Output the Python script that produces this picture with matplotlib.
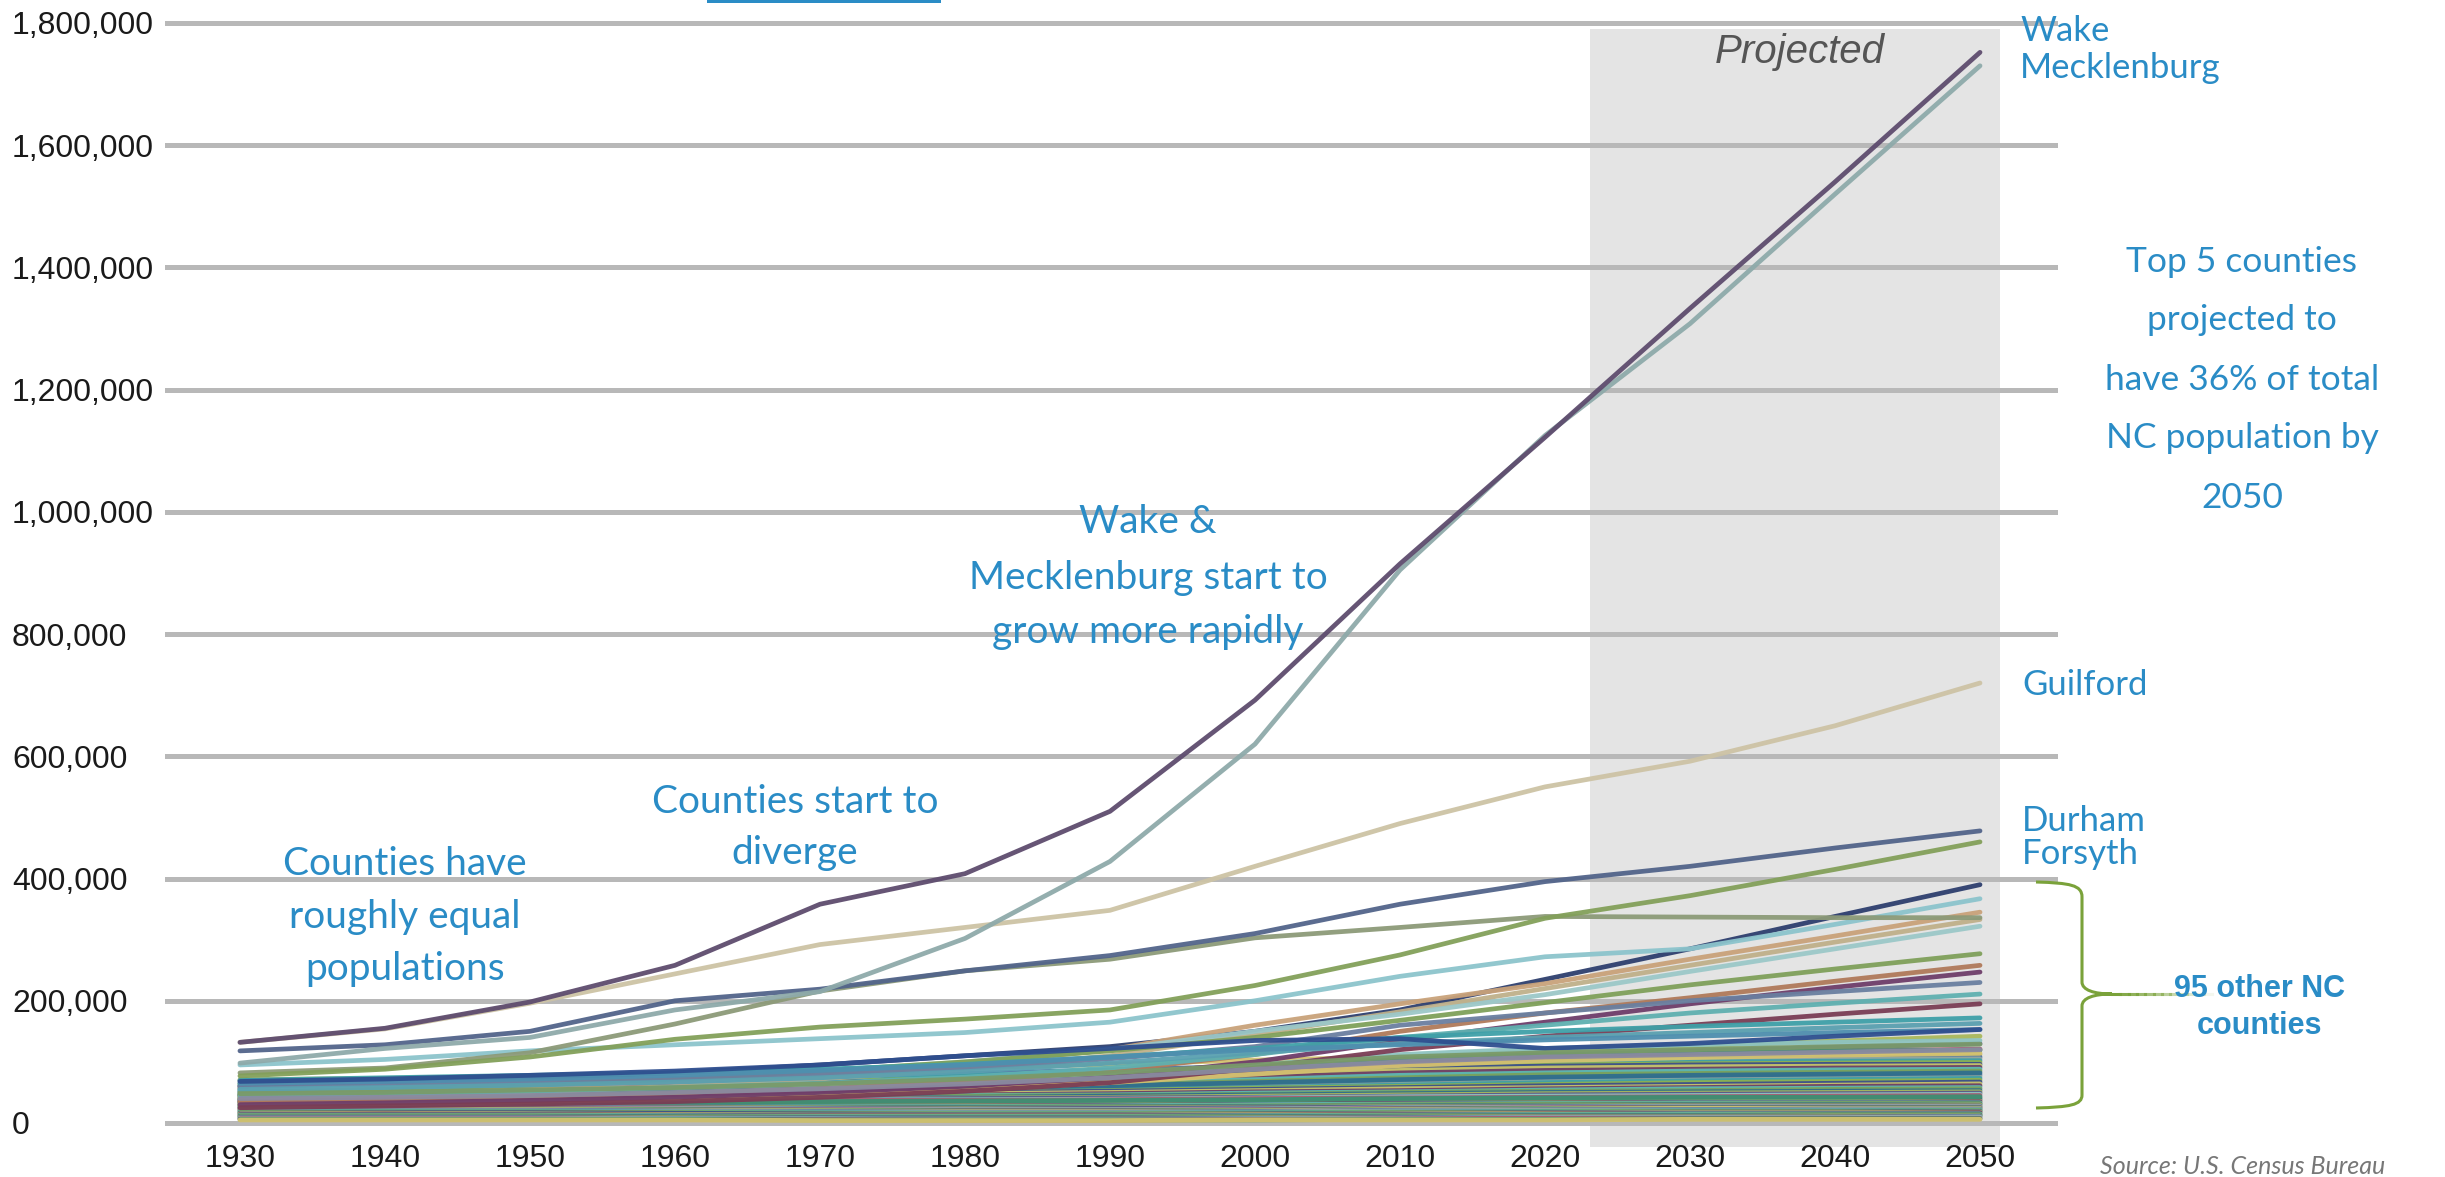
import matplotlib
matplotlib.use('Agg')
from matplotlib import pyplot as plt
from matplotlib import font_manager
from matplotlib.path import Path
from matplotlib.patches import PathPatch, Rectangle

years = [1930, 1940, 1950, 1960, 1970, 1980, 1990, 2000, 2010, 2020, 2030, 2040, 2050]

# population in thousands
wake = [132, 155, 198, 258, 358, 408, 510, 692, 915, 1122, 1333, 1540, 1752]
mecklenburg = [98, 122, 140, 185, 215, 302, 428, 620, 905, 1125, 1308, 1520, 1730]
guilford = [132, 154, 196, 244, 292, 320, 348, 420, 490, 550, 592, 650, 720]
durham = [118, 128, 150, 200, 219, 249, 274, 310, 358, 395, 420, 450, 478]
forsyth = [77, 88, 108, 137, 157, 170, 185, 225, 275, 335, 372, 415, 460]
cumberland = [82, 90, 115, 162, 216, 249, 268, 303, 320, 338, 337, 336, 336]

mid_counties = [
    [60, 66, 72, 82, 95, 110, 125, 150, 185, 235, 285, 338, 390],
    [95, 104, 118, 128, 138, 148, 165, 200, 240, 272, 285, 325, 367],
    [45, 50, 58, 68, 80, 95, 120, 160, 195, 228, 268, 306, 345],
    [40, 44, 50, 60, 72, 88, 110, 145, 182, 220, 258, 296, 333],
    [55, 60, 66, 74, 85, 100, 120, 150, 178, 210, 248, 285, 322],
    [50, 55, 62, 72, 85, 100, 118, 140, 168, 197, 226, 252, 277],
    [35, 38, 42, 48, 56, 68, 85, 112, 150, 180, 205, 232, 258],
    [30, 33, 37, 42, 50, 60, 75, 100, 135, 165, 195, 222, 247],
    [60, 64, 68, 73, 80, 90, 105, 125, 160, 180, 200, 215, 230],
    [45, 48, 52, 58, 65, 75, 90, 112, 140, 160, 180, 196, 211],
    [25, 28, 31, 35, 42, 52, 66, 90, 120, 142, 160, 178, 195],
    [70, 74, 78, 82, 88, 96, 108, 122, 140, 150, 158, 165, 172],
    [55, 58, 62, 67, 74, 84, 98, 115, 130, 140, 148, 156, 163],
    [65, 68, 72, 78, 86, 95, 108, 120, 128, 136, 142, 148, 153],
    [68, 72, 78, 85, 95, 110, 122, 135, 138, 122, 130, 142, 153],
    [48, 50, 54, 58, 64, 72, 82, 95, 108, 115, 120, 125, 129],
    [40, 42, 45, 50, 56, 64, 74, 88, 100, 108, 112, 116, 120],
]

rising_counties = [
    [42, 44, 47, 52, 58, 66, 76, 92, 108, 118, 126, 134, 142],
    [38, 40, 43, 47, 52, 60, 70, 85, 100, 110, 118, 124, 130],
    [50, 52, 55, 58, 62, 68, 78, 95, 112, 122, 128, 132, 135],
    [35, 37, 40, 44, 50, 58, 68, 82, 96, 106, 112, 117, 121],
    [45, 46, 48, 51, 56, 64, 74, 88, 104, 112, 116, 118, 119],
    [30, 32, 35, 39, 45, 54, 66, 80, 94, 102, 107, 111, 114],
]

upper_small_counties = [
    [71, 73, 76, 80, 84, 90, 96, 103, 108, 110, 111, 112, 112],
    [69, 70, 71, 73, 77, 81, 87, 93, 99, 103, 105, 107, 108],
    [66, 68, 70, 69, 71, 74, 80, 89, 97, 101, 103, 104, 105],
    [64, 65, 67, 70, 73, 78, 83, 90, 95, 98, 100, 101, 102],
    [63, 63, 64, 65, 68, 73, 79, 86, 92, 95, 97, 98, 99],
    [61, 62, 63, 66, 67, 70, 75, 83, 90, 93, 95, 96, 96],
    [58, 60, 62, 62, 63, 66, 71, 78, 86, 90, 92, 93, 94],
    [57, 57, 58, 60, 62, 65, 68, 75, 82, 86, 88, 90, 91],
    [55, 56, 56, 57, 59, 62, 66, 71, 78, 82, 85, 87, 88],
    [54, 54, 55, 56, 57, 59, 63, 68, 74, 79, 81, 83, 85],
    [52, 53, 53, 54, 56, 58, 61, 66, 71, 75, 78, 80, 82],
]

middle_small_counties = [
    [51, 51, 52, 53, 54, 55, 58, 62, 67, 72, 75, 77, 79],
    [49, 50, 51, 52, 52, 54, 56, 60, 65, 68, 71, 74, 76],
    [48, 49, 49, 50, 51, 52, 55, 58, 62, 66, 69, 71, 73],
    [47, 47, 48, 49, 50, 51, 53, 57, 60, 63, 66, 68, 70],
    [46, 46, 46, 47, 48, 50, 52, 55, 58, 61, 63, 65, 67],
    [45, 45, 46, 46, 47, 48, 50, 53, 56, 58, 60, 62, 64],
    [44, 44, 44, 45, 45, 46, 48, 51, 53, 56, 58, 60, 61],
    [42, 43, 43, 43, 44, 45, 46, 49, 51, 54, 56, 57, 58],
    [41, 42, 42, 42, 43, 44, 45, 47, 50, 52, 53, 55, 56],
    [40, 40, 41, 41, 42, 42, 44, 46, 48, 50, 51, 52, 53],
    [39, 40, 40, 40, 40, 41, 42, 44, 46, 48, 49, 50, 51],
    [38, 38, 39, 39, 39, 40, 41, 42, 44, 46, 47, 48, 49],
    [37, 37, 37, 38, 38, 38, 39, 41, 43, 44, 45, 46, 47],
    [36, 36, 36, 36, 37, 37, 38, 40, 41, 42, 43, 44, 45],
    [35, 35, 35, 35, 35, 36, 37, 38, 40, 41, 42, 42, 43],
]

rural_counties = [
    [34, 35, 34, 33, 33, 34, 35, 36, 38, 39, 40, 41, 41],
    [33, 34, 34, 33, 32, 32, 33, 35, 36, 37, 38, 39, 40],
    [32, 33, 33, 32, 31, 31, 32, 34, 35, 36, 37, 37, 38],
    [31, 32, 31, 30, 29, 29, 30, 32, 34, 35, 35, 36, 36],
    [30, 31, 30, 29, 28, 28, 29, 31, 33, 33, 34, 34, 35],
    [29, 30, 30, 28, 27, 27, 28, 30, 31, 32, 33, 33, 33],
    [28, 29, 28, 27, 26, 26, 27, 28, 30, 31, 31, 32, 32],
    [27, 28, 28, 27, 26, 25, 26, 27, 28, 29, 30, 30, 31],
    [26, 27, 27, 26, 25, 24, 25, 26, 27, 28, 29, 29, 30],
    [25, 26, 26, 25, 24, 23, 24, 25, 26, 27, 28, 28, 28],
    [24, 25, 25, 24, 23, 22, 22, 23, 25, 26, 27, 27, 27],
    [23, 24, 24, 23, 22, 21, 21, 22, 24, 25, 26, 26, 26],
    [22, 23, 23, 22, 21, 20, 20, 21, 23, 24, 25, 25, 25],
    [21, 22, 22, 21, 20, 19, 19, 20, 22, 23, 24, 24, 24],
    [20, 21, 21, 20, 19, 18, 18, 19, 21, 22, 22, 23, 23],
    [19, 20, 20, 19, 18, 17, 17, 18, 20, 21, 21, 22, 22],
    [18, 19, 19, 18, 17, 16, 16, 17, 18, 19, 20, 20, 21],
    [17, 18, 18, 17, 16, 15, 15, 16, 17, 18, 19, 19, 20],
    [16, 17, 17, 16, 15, 14, 14, 15, 16, 17, 18, 18, 19],
    [15, 16, 15, 14, 13, 13, 13, 14, 15, 16, 17, 17, 18],
    [14, 15, 14, 13, 12, 12, 12, 13, 14, 15, 16, 16, 17],
    [13, 13, 13, 12, 11, 11, 11, 12, 13, 14, 15, 15, 15],
    [12, 12, 12, 11, 10, 10, 10, 11, 12, 13, 13, 14, 14],
    [11, 11, 11, 10, 9, 9, 9, 10, 11, 12, 12, 13, 13],
    [10, 10, 10, 9, 8, 8, 8, 9, 10, 11, 11, 12, 12],
    [9, 9, 9, 8, 8, 7, 7, 8, 9, 10, 10, 10, 11],
    [8, 8, 8, 7, 7, 6, 6, 7, 8, 9, 9, 9, 10],
    [7, 7, 7, 6, 6, 5, 5, 6, 7, 8, 8, 8, 8],
    [6, 6, 6, 6, 5, 5, 5, 5, 6, 6, 7, 7, 7],
    [5, 5, 5, 5, 4, 4, 4, 5, 5, 5, 6, 6, 6],
]

y_ticks = [0, 200000, 400000, 600000, 800000, 1000000, 1200000, 1400000, 1600000, 1800000]

BLUE = '#2a8cc6'
W, H = 2445, 1177

low_colors = ['#3f9fa5', '#8db04f', '#3c4f8c', '#c8c46a', '#6c3f66', '#5cbab2', '#79a05c',
              '#2f6e8e', '#a9b85c', '#55588c', '#8ec3c0', '#a85a70', '#3e8f72', '#d3c26f',
              '#4e6fa0', '#93a8a0']
mid_colors = ['#2e3f6e', '#8cc4cc', '#c9a27a', '#bfb08a', '#9cc8c8', '#7fa05a', '#b07a5a',
              '#6e3d6a', '#6a7fa0', '#5fb0b0', '#7a3d55', '#3fa0a8', '#5aa0b0', '#4f8faf',
              '#2f4f8f', '#7a9a6a', '#8a8aa0']

names = {f.name for f in font_manager.fontManager.ttflist}
narrow = 'Liberation Sans Narrow' if 'Liberation Sans Narrow' in names else 'Liberation Sans'


def fx(px):
    return px / W


def fy(py):
    return 1 - py / H


fig = plt.figure(figsize=(W / 100, H / 100), dpi=100)
ax = fig.add_axes([fx(167), fy(1123), (2055 - 167) / W, 1100 / H])
ax.set_xlim(1924.97, 2055.17)
ax.set_ylim(0, 1800000)

# projected period
ax.add_patch(Rectangle((2023.1, -40000), 28.3, 1830000, facecolor='#e4e4e4',
                       edgecolor='none', zorder=0, clip_on=False))
for v in y_ticks:
    ax.axhline(v, color='#b8b8b8', lw=3.6, zorder=1, clip_on=False)


def draw(values, color, z):
    ax.plot(years, [v * 1000 for v in values], color=color, lw=3.4, alpha=0.95,
            solid_capstyle='round', solid_joinstyle='round', zorder=z)


groups = [rural_counties, middle_small_counties, upper_small_counties, rising_counties]
k = 0
for group in groups:
    for row in group:
        draw(row, low_colors[k % len(low_colors)], 2)
        k += 1
for i, row in enumerate(mid_counties):
    draw(row, mid_colors[i], 3)
draw(cumberland, '#8c9a78', 4)
draw(forsyth, '#83a05a', 4)
draw(durham, '#52648a', 4)
draw(guilford, '#cdc3a5', 5)
draw(mecklenburg, '#8eaaaa', 6)
draw(wake, '#5e4c6e', 7)

ax.set_xticks(years)
ax.set_xticklabels([str(y) for y in years], fontfamily='Liberation Sans', fontsize=23,
                   color='#1a1a1a')
ax.set_yticks(y_ticks)
ax.set_yticklabels([f'{v:,}' for v in y_ticks], fontfamily=narrow, fontsize=23,
                   color='#1a1a1a')
for lab in ax.get_yticklabels():
    lab.set_ha('left')
ax.tick_params(axis='y', length=0, pad=(167 - 12) * 0.72)
ax.tick_params(axis='x', length=0, pad=15)
for s in ax.spines.values():
    s.set_visible(False)
ax.set_facecolor('none')

fig.text(fx(1800), fy(63), 'Projected', fontfamily='Liberation Sans', style='italic',
         fontsize=29, color='#555555', ha='center', va='baseline')


def label(px, py, s, size=25, ha='left', weight='normal', family='Lato'):
    fig.text(fx(px), fy(py), s, fontfamily=family, fontsize=size, color=BLUE, ha=ha,
             va='baseline', fontweight=weight)


label(2020, 41, 'Wake')
label(2020, 78, 'Mecklenburg')
label(2022, 695, 'Guilford')
label(2022, 831, 'Durham')
label(2022, 864, 'Forsyth')

for py, s in zip([875, 928, 980], ['Counties have', 'roughly equal', 'populations']):
    label(405, py, s, size=28, ha='center')
for py, s in zip([813, 864], ['Counties start to', 'diverge']):
    label(795, py, s, size=28, ha='center')
for py, s in zip([533, 589, 643], ['Wake &', 'Mecklenburg start to', 'grow more rapidly']):
    label(1148, py, s, size=28, ha='center')
top5 = ['Top 5 counties', 'projected to', 'have 36% of total', 'NC population by', '2050']
for py, s in zip([272, 330, 390, 448, 508], top5):
    label(2242, py, s, size=25.5, ha='center')
for py, s in zip([997, 1034], ['95 other NC', 'counties']):
    label(2260, py, s, size=22, ha='center', weight='bold', family='Liberation Sans')

# brace
GREEN = '#7aa23a'
pts = [(2036, 882), (2070, 883), (2082, 885), (2082, 897), (2082, 982),
       (2082, 990), (2094, 994), (2112, 994),
       (2094, 994), (2082, 998), (2082, 1006), (2082, 1095),
       (2082, 1105), (2070, 1107), (2036, 1108)]
codes = [Path.MOVETO, Path.CURVE4, Path.CURVE4, Path.CURVE4, Path.LINETO,
         Path.CURVE4, Path.CURVE4, Path.CURVE4,
         Path.CURVE4, Path.CURVE4, Path.CURVE4, Path.LINETO,
         Path.CURVE4, Path.CURVE4, Path.CURVE4]
path = Path([(fx(x), fy(y)) for x, y in pts], codes)
fig.add_artist(PathPatch(path, transform=fig.transFigure, facecolor='none',
                         edgecolor=GREEN, lw=2.2))
n = 12
for i in range(n):
    x0 = 2112 + i * 100 / n
    x1 = 2112 + (i + 1) * 100 / n
    fig.add_artist(plt.Line2D([fx(x0), fx(x1)], [fy(994), fy(994)], transform=fig.transFigure,
                              color=GREEN, lw=2.2, alpha=1 - i / n))

fig.add_artist(Rectangle((fx(707), fy(3)), (941 - 707) / W, 3 / H, transform=fig.transFigure,
                         facecolor=BLUE, edgecolor='none'))

fig.text(fx(2100), fy(1174), 'Source: U.S. Census Bureau', fontfamily='Lato', style='italic',
         fontsize=18, color='#777777', ha='left', va='baseline')

fig.savefig('out.png', dpi=100)
